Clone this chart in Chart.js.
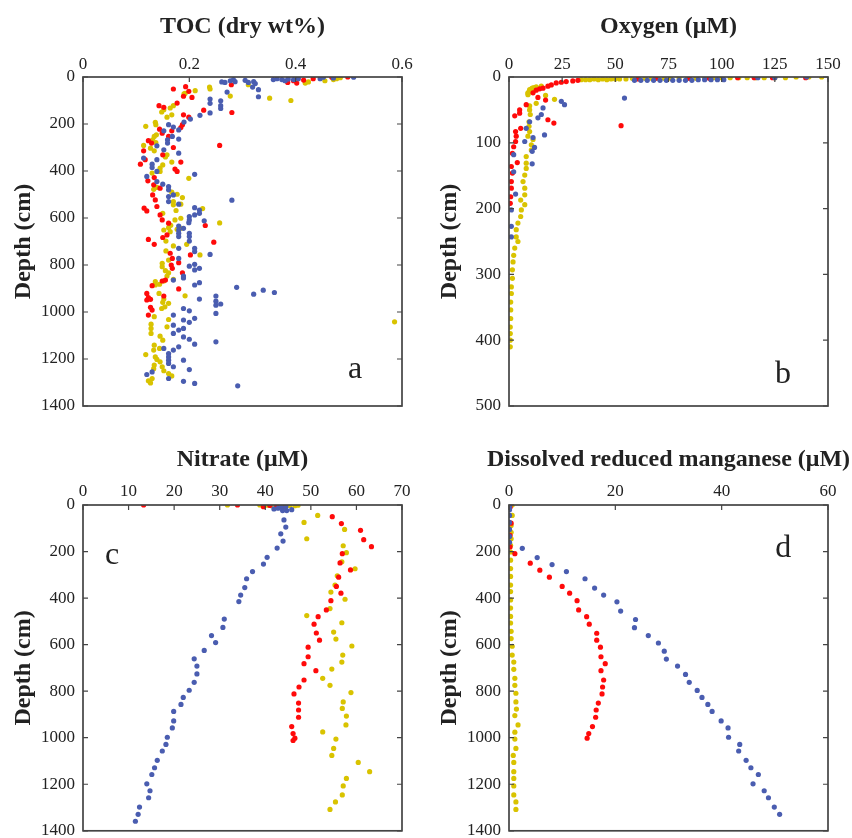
<!DOCTYPE html>
<html>
<head>
<meta charset="utf-8">
<script src="https://cdn.jsdelivr.net/npm/chart.js@4.4.0/dist/chart.umd.min.js"></script>
<style>
  body { margin: 0; background: #fff; overflow: hidden; width: 852px; height: 838px; position: relative; }
  .panel { position: absolute; }
</style>
</head>
<body>
<div class="panel" style="left:0;top:0"><canvas id="toc" width="426" height="430"></canvas></div>
<div class="panel" style="left:426px;top:0"><canvas id="oxy" width="426" height="430"></canvas></div>
<div class="panel" style="left:0;top:419px"><canvas id="nit" width="426" height="430"></canvas></div>
<div class="panel" style="left:426px;top:419px"><canvas id="mn" width="426" height="430"></canvas></div>
<script>
// colours of the three cores
var BLUE = '#4a5db0', RED = '#ff0a0a', YELLOW = '#d9c300';

// axis limits / tick steps
var tocAxis = [0.6, 0.2, 1400, 200];
var oxyAxis = [150, 25, 500, 100];
var nitAxis = [70, 10, 1400, 200];
var mnAxis = [60, 20, 1400, 200];

// ---- a: TOC (dry wt%) vs depth (cm), [value, depth]
var tocBlue = [[0.261,21],[0.267,23],[0.277,16],[0.283,11],[0.286,20],[0.305,14],[0.311,23],[0.321,20],[0.324,28],[0.358,11],[0.365,7],[0.374,11],[0.380,16],[0.386,9],[0.396,11],[0.405,7],[0.446,7],[0.452,1],[0.471,4],[0.509,1],[0.319,43],[0.330,54],[0.271,64],[0.330,84],[0.239,94],[0.239,112],[0.259,101],[0.259,122],[0.259,134],[0.239,153],[0.220,163],[0.202,179],[0.190,192],[0.161,203],[0.170,213],[0.180,225],[0.152,229],[0.159,267],[0.159,281],[0.168,253],[0.180,264],[0.139,293],[0.152,310],[0.180,324],[0.114,345],[0.139,352],[0.130,371],[0.130,385],[0.139,402],[0.120,423],[0.210,414],[0.139,445],[0.150,456],[0.161,466],[0.161,480],[0.170,502],[0.161,509],[0.161,530],[0.180,541],[0.280,524],[0.210,556],[0.219,566],[0.219,580],[0.228,612],[0.200,594],[0.210,587],[0.199,620],[0.200,608],[0.189,644],[0.180,634],[0.180,651],[0.180,665],[0.180,679],[0.200,665],[0.200,679],[0.200,698],[0.210,729],[0.210,743],[0.239,755],[0.180,729],[0.180,772],[0.200,805],[0.210,797],[0.219,814],[0.210,821],[0.189,847],[0.189,855],[0.170,864],[0.210,885],[0.219,875],[0.289,895],[0.321,924],[0.339,907],[0.360,917],[0.219,945],[0.250,932],[0.250,954],[0.250,971],[0.259,966],[0.250,1006],[0.189,985],[0.200,995],[0.170,1013],[0.170,1056],[0.189,1034],[0.200,1044],[0.210,1027],[0.180,1077],[0.170,1091],[0.189,1070],[0.189,1106],[0.200,1116],[0.210,1137],[0.250,1127],[0.180,1148],[0.152,1155],[0.170,1162],[0.161,1177],[0.161,1191],[0.161,1205],[0.161,1219],[0.189,1205],[0.170,1233],[0.200,1245],[0.120,1266],[0.130,1255],[0.161,1283],[0.189,1295],[0.210,1304],[0.291,1314]];
var tocRed = [[0.279,33],[0.385,23],[0.396,16],[0.402,26],[0.415,13],[0.433,7],[0.468,1],[0.498,0],[0.170,51],[0.193,41],[0.199,61],[0.189,82],[0.205,87],[0.143,122],[0.152,129],[0.177,111],[0.227,141],[0.280,151],[0.189,161],[0.199,171],[0.187,203],[0.184,215],[0.167,229],[0.144,222],[0.149,239],[0.161,253],[0.123,271],[0.129,281],[0.170,300],[0.114,314],[0.150,331],[0.257,291],[0.108,371],[0.117,352],[0.184,362],[0.173,392],[0.177,402],[0.122,442],[0.134,428],[0.133,459],[0.145,473],[0.131,502],[0.136,523],[0.139,551],[0.115,558],[0.120,570],[0.145,587],[0.149,608],[0.161,622],[0.230,632],[0.150,683],[0.158,672],[0.123,691],[0.134,712],[0.246,703],[0.164,750],[0.168,772],[0.202,757],[0.180,790],[0.166,800],[0.168,814],[0.187,833],[0.149,868],[0.155,864],[0.130,888],[0.180,902],[0.120,921],[0.123,939],[0.120,949],[0.127,980],[0.130,992],[0.123,1013],[0.152,932],[0.127,946]];
var tocYellow = [[0.311,33],[0.418,26],[0.424,21],[0.455,16],[0.471,11],[0.477,7],[0.484,3],[0.211,58],[0.238,43],[0.239,51],[0.192,70],[0.190,72],[0.277,81],[0.351,90],[0.391,100],[0.170,122],[0.164,132],[0.152,139],[0.148,149],[0.167,161],[0.158,171],[0.118,210],[0.136,193],[0.137,203],[0.138,246],[0.134,253],[0.131,267],[0.137,279],[0.114,291],[0.127,303],[0.134,314],[0.158,331],[0.155,340],[0.167,362],[0.150,374],[0.145,388],[0.145,402],[0.130,409],[0.199,431],[0.139,470],[0.133,478],[0.167,490],[0.177,499],[0.187,513],[0.170,530],[0.170,544],[0.175,568],[0.150,580],[0.225,560],[0.184,541],[0.173,608],[0.184,601],[0.177,648],[0.184,644],[0.165,631],[0.161,641],[0.257,621],[0.152,651],[0.164,658],[0.195,712],[0.156,698],[0.170,719],[0.156,740],[0.220,757],[0.161,779],[0.149,793],[0.149,807],[0.155,824],[0.161,833],[0.158,847],[0.152,868],[0.170,861],[0.136,871],[0.136,885],[0.144,882],[0.192,931],[0.143,921],[0.152,945],[0.150,959],[0.148,985],[0.161,963],[0.154,978],[0.134,1020],[0.161,1032],[0.158,1063],[0.128,1052],[0.128,1070],[0.128,1091],[0.145,1103],[0.150,1120],[0.134,1141],[0.133,1162],[0.144,1155],[0.118,1181],[0.136,1191],[0.139,1202],[0.145,1212],[0.134,1226],[0.149,1233],[0.133,1241],[0.152,1250],[0.161,1262],[0.167,1272],[0.130,1283],[0.123,1293],[0.127,1302],[0.586,1042]];

// ---- b: Oxygen (uM)
var oxyBlue = [[59,5],[62,5],[65,5],[68,5],[71,5],[74,5],[77,5],[80,5],[83,5],[86,5],[89,4],[92,4],[95,4],[98,4],[101,4],[117,1],[125,1],[140,0],[24.6,37],[26.1,42],[16,47],[15.2,57],[13.6,62],[16.7,88],[8.1,78],[9.7,68],[11.3,92],[7.4,98],[12,107],[10.9,113],[10.9,132],[2.2,118],[2.2,144],[3.1,178],[1.1,202],[1.1,227],[1.1,243],[54.3,32]];
var oxyRed = [[26.9,7],[30,6],[32.4,5],[24.6,8],[22.2,9],[19.9,12],[18.3,14],[16,17],[14.4,18],[12.8,20],[11.3,24],[60.5,3],[69,2],[84.8,2],[94.2,2],[107.5,1],[115.3,1],[123.9,1],[139.5,1],[8.1,42],[5,50],[5,55],[2.7,59],[13.6,31],[17.2,35],[18.3,65],[21.1,70],[5.5,78],[3.1,83],[3.4,90],[3.1,98],[2.2,106],[1.6,116],[3.9,130],[1.1,136],[1.6,146],[1.1,159],[1.1,169],[0.8,182],[0.6,192],[52.7,74]];
var oxyYellow = [[34,4],[36,4],[38,4],[40,3],[42,4],[44,3],[46,4],[48,3],[50,3],[52,3],[55,3],[58,2],[61,2],[64,2],[67,2],[70,2],[73,2],[76,2],[80,2],[84,1],[88,2],[92,1],[96,1],[100,1],[104,1],[108,1],[112,1],[116,1],[120,1],[125,1],[130,1],[135,0],[141,0],[147,0],[9.5,22],[10,20],[10.5,18],[11,17],[12,16],[9,25],[8.9,27],[9.7,19],[8.9,24],[11.3,17],[12.8,15],[15.2,14],[17.2,28],[21.4,34],[12.8,40],[9.7,44],[9.7,50],[10,57],[9.4,68],[9.4,75],[9.7,83],[8.9,90],[11.3,95],[10.5,103],[10.5,111],[8.1,121],[8.1,131],[8.1,139],[7.4,149],[6.6,159],[7.4,169],[7.4,179],[5.5,187],[7.4,194],[5.8,202],[5.5,212],[4.2,222],[3.4,232],[3.4,243],[4.2,250],[2.7,260],[2.2,271],[1.9,281],[1.6,293],[1.6,306],[1.1,319],[1.1,329],[0.8,342],[0.8,354],[0.8,367],[0.6,380],[0.6,390],[0.6,400],[0.6,410]];

// ---- c: Nitrate (uM)
var nitBlue = [[41.9,17],[42.8,14],[43.8,24],[44.7,24],[45.8,20],[43.5,10],[44.5,8],[44.1,64],[44.5,95],[43.4,124],[43.9,155],[42.6,185],[40.4,225],[39.6,254],[37.2,286],[35.9,317],[35.5,355],[34.6,387],[34.2,415],[31,490],[30.7,526],[28.2,561],[29.1,591],[26.6,625],[24.4,661],[25,692],[25,726],[24.4,762],[23.3,796],[22,827],[21.5,857],[19.9,887],[19.9,928],[19.6,958],[18.5,998],[18.2,1029],[17.4,1057],[16.3,1097],[15.7,1129],[15.1,1158],[14,1198],[14.7,1228],[14.4,1258],[12.4,1298],[12.1,1329],[11.5,1359]];
var nitRed = [[13.3,0],[33.9,0],[39.6,7],[42.5,6],[44.3,6],[41,2],[54.7,50],[56.7,80],[60.9,109],[61.6,149],[63.3,179],[56.9,209],[56.4,249],[58.7,279],[56.1,310],[55.6,350],[56.6,379],[54.4,411],[53.4,451],[51.6,480],[50.7,512],[51.2,550],[51.9,581],[49.4,611],[49.4,652],[48.5,682],[51.1,712],[48.5,752],[47.4,782],[46.3,812],[47.3,851],[47.3,881],[47.3,912],[45.8,952],[46.1,982],[46.5,1002],[46.1,1012]];
var nitYellow = [[31.7,0],[38.8,0],[39.5,3],[40.3,1],[41.3,3],[42.5,1],[43.2,3],[44,1],[44.7,3],[45.4,2],[46.5,3],[47.2,1],[51.5,45],[48.5,75],[57.4,105],[49.1,145],[57.1,175],[57.8,205],[56.8,244],[59.7,274],[55.8,304],[55.3,344],[54.4,374],[57.5,405],[54.2,445],[49.1,475],[56.8,506],[55,546],[55.5,576],[59,606],[57,645],[56.8,675],[54.6,705],[52.6,745],[54.2,775],[58.8,806],[57.1,846],[56.9,874],[57.8,907],[57.7,945],[52.6,975],[55.5,1006],[55,1046],[54.6,1076],[60.4,1106],[62.9,1146],[57.8,1175],[57.1,1207],[56.9,1246],[55.4,1276],[54.2,1308]];

// ---- d: Dissolved reduced manganese (uM)
var mnBlue = [[0.1,5],[0.1,20],[0.1,45],[0.1,75],[0.1,105],[0.1,135],[0.1,160],[2.5,186],[5.3,226],[8.1,256],[10.8,286],[14.3,317],[16.1,357],[17.8,387],[20.3,416],[21,456],[23.8,492],[23.6,527],[26.2,561],[28.1,593],[29.2,628],[29.6,662],[31.7,692],[33.2,728],[33.9,762],[35.4,797],[36.3,827],[37.4,857],[38.2,887],[39.9,928],[41.2,958],[41.3,998],[43.4,1029],[43.2,1057],[44.6,1097],[45.5,1129],[46.9,1158],[45.9,1198],[48,1228],[48.8,1258],[49.9,1298],[50.9,1329]];
var mnRed = [[0.2,10],[0.4,78],[0.2,130],[0.2,180],[1.1,209],[4,250],[5.8,280],[7.6,310],[10,350],[11.4,379],[12.8,411],[13.1,451],[14.6,480],[15.1,512],[16.5,551],[16.5,581],[17.2,611],[17.3,652],[18.1,682],[17.3,712],[17.8,752],[17.6,782],[17.5,812],[16.8,851],[16.4,881],[16.3,912],[15.7,952],[15,982],[14.7,1002]];
var mnYellow = [[0.6,0],[0.6,45],[0.4,88],[0.4,117],[0.4,145],[0.3,173],[0.3,202],[0.3,237],[0.3,273],[0.3,307],[0.3,344],[0.3,372],[0.3,408],[0.3,443],[0.3,479],[0.3,507],[0.4,543],[0.4,574],[0.6,607],[0.6,645],[0.9,675],[0.9,706],[1.1,745],[1.1,775],[1.3,809],[1.3,846],[1.4,877],[1.1,905],[1.7,945],[1.1,976],[1.1,1006],[1.3,1046],[0.8,1076],[0.9,1106],[0.9,1146],[0.9,1175],[0.9,1207],[0.9,1246],[1.3,1276],[1.3,1308]];

var SERIF = '"Liberation Serif", "Times New Roman", serif';

// box + inward ticks + top title + panel letter
var framePlugin = {
  id: 'frame',
  afterDraw: function(chart, args, opts) {
    var ctx = chart.ctx, a = chart.chartArea, x = chart.scales.x, y = chart.scales.y;
    ctx.save();
    ctx.strokeStyle = '#444';
    ctx.lineWidth = 1.7;
    ctx.strokeRect(a.left, a.top, a.right - a.left, a.bottom - a.top);
    ctx.beginPath();
    x.ticks.forEach(function(t) {
      var px = x.getPixelForValue(t.value);
      ctx.moveTo(px, a.top); ctx.lineTo(px, a.top + 5);
    });
    y.ticks.forEach(function(t) {
      var py = y.getPixelForValue(t.value);
      ctx.moveTo(a.left, py); ctx.lineTo(a.left + 5, py);
      ctx.moveTo(a.right, py); ctx.lineTo(a.right - 5, py);
    });
    ctx.lineWidth = 1.2;
    ctx.stroke();
    ctx.fillStyle = '#222';
    ctx.textAlign = 'center';
    ctx.textBaseline = 'alphabetic';
    // title drawn here so it is not squeezed to the plot width
    ctx.font = 'bold 24px ' + SERIF;
    ctx.fillText(opts.title, (a.left + a.right) / 2, a.top - opts.titleGap);
    ctx.font = '32px ' + SERIF;
    ctx.fillText(opts.letter, x.getPixelForValue(opts.at[0]), y.getPixelForValue(opts.at[1]));
    ctx.restore();
  }
};

function set(label, data, color) {
  return {
    label: label,
    data: data.map(function(p) { return { x: p[0], y: p[1] }; }),
    backgroundColor: color,
    borderWidth: 0,
    pointRadius: 2.6,
    pointHoverRadius: 2.6
  };
}

function drawPanel(id, title, axis, sets, letter, at, topH, bottomPad, tickPad, titleGap) {
  new Chart(document.getElementById(id), {
    type: 'scatter',
    plugins: [framePlugin],
    data: { datasets: sets },
    options: {
      responsive: false,
      animation: false,
      devicePixelRatio: 1,
      layout: { padding: { left: 0, right: 24, top: 0, bottom: bottomPad } },
      plugins: {
        legend: { display: false },
        tooltip: { enabled: false },
        frame: { letter: letter, at: at, title: title, titleGap: titleGap }
      },
      scales: {
        x: {
          type: 'linear',
          position: 'top',
          min: 0,
          max: axis[0],
          grid: { display: false, drawTicks: false },
          border: { display: false },
          ticks: {
            stepSize: axis[1],
            padding: tickPad,
            color: '#222',
            font: { family: SERIF, size: 17 },
            callback: function(v) { return String(+v.toFixed(2)); }
          },
          afterFit: function(s) { s.height = topH; }
        },
        y: {
          type: 'linear',
          reverse: true,
          min: 0,
          max: axis[2],
          grid: { display: false, drawTicks: false },
          border: { display: false },
          ticks: {
            stepSize: axis[3],
            padding: 8,
            color: '#222',
            font: { family: SERIF, size: 17 },
            callback: function(v) { return String(v); }
          },
          title: {
            display: true,
            text: 'Depth (cm)',
            color: '#222',
            font: { family: SERIF, size: 24, weight: 'bold' },
            padding: { top: 9, bottom: 0 }
          },
          afterFit: function(s) { s.width = 83; }
        }
      }
    }
  });
}

drawPanel('toc', 'TOC (dry wt%)', tocAxis,
  [set('Core 1', tocBlue, BLUE), set('Core 2', tocRed, RED), set('Core 3', tocYellow, YELLOW)],
  'a', [0.512, 1282], 77, 24, 2, 44);
drawPanel('oxy', 'Oxygen (\u03bcM)', oxyAxis,
  [set('Core 1', oxyBlue, BLUE), set('Core 2', oxyRed, RED), set('Core 3', oxyYellow, YELLOW)],
  'b', [128.8, 465], 77, 24, 2, 44);
drawPanel('nit', 'Nitrate (\u03bcM)', nitAxis,
  [set('Core 1', nitBlue, BLUE), set('Core 2', nitRed, RED), set('Core 3', nitYellow, YELLOW)],
  'c', [6.4, 252], 86, 16, 3, 39);
drawPanel('mn', 'Dissolved reduced manganese (\u03bcM)', mnAxis,
  [set('Core 1', mnBlue, BLUE), set('Core 2', mnRed, RED), set('Core 3', mnYellow, YELLOW)],
  'd', [51.6, 222], 86, 16, 3, 39);
</script>
</body>
</html>
